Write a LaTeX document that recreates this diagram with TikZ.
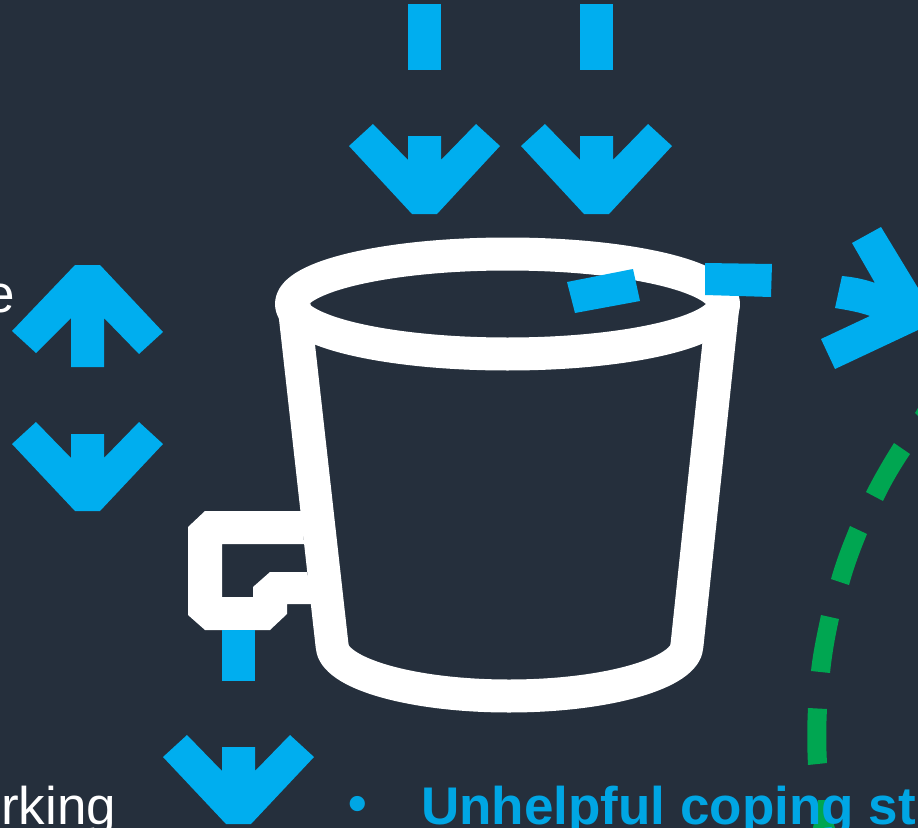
\documentclass[tikz,border=0pt]{standalone}
\usepackage{xcolor}
\usepackage{fontspec}
\setmainfont{Liberation Sans}
\definecolor{bginkdark}{RGB}{37,47,60}
\definecolor{flowblue}{RGB}{0,174,239}
\definecolor{flowgreen}{RGB}{0,166,81}
\definecolor{textblue}{RGB}{0,166,228}
\tikzset{
  bucketline/.style={draw=white, line width=24.75pt, line join=round},
  bucketfill/.style={fill=white},
  flowshape/.style={fill=flowblue},
  leakshape/.style={fill=flowgreen},
  wordwhite/.style={font=\fontsize{39.75pt}{44pt}\selectfont, text=white, inner sep=0pt},
  wordblue/.style={font=\fontsize{39.75pt}{44pt}\selectfont\bfseries, text=textblue, inner sep=0pt}
}

\begin{document}
\begin{tikzpicture}[x=0.75pt, y=-0.75pt]
  % Page and background
  \useasboundingbox (0,0) rectangle (918,828);
  \clip (0,0) rectangle (918,828);
  \fill[bginkdark] (0,0) rectangle (918,828);

  % --- Green dashes, right side ---
  \fill[leakshape] (915,413) -- (918,408) -- (918,416) -- cycle;
  \fill[leakshape] (894,443) .. controls (884,459) and (874,476) .. (866,492) -- (883,501) .. controls (891,484) and (900,469) .. (910,454) -- cycle;
  \fill[leakshape] (850,526) .. controls (843,543) and (836,561) .. (831,579) -- (849,585) .. controls (854,567) and (860,551) .. (867,534) -- cycle;
  \fill[leakshape] (821,615) .. controls (817,634) and (813,652) .. (811,671) -- (830,673) .. controls (832,654) and (835,637) .. (839,619) -- cycle;
  \fill[leakshape] (808,708) .. controls (807,727) and (807,746) .. (808,765) -- (827,763) .. controls (826,745) and (826,727) .. (827,709) -- cycle;
  \fill[leakshape] (818,800) -- (826,800) -- (835,828) -- (813,828) -- cycle;

  % --- Bucket ---
  \draw[bucketline] (294,305) -- (332,645) .. controls (332,673) and (411,696) .. (509,696) .. controls (607,696) and (687,673) .. (687,645) -- (723,305);
  \draw[bucketline] (507.5,304) ellipse [x radius=216, y radius=50];
  % Tap on the left
  \fill[bucketfill] (302,511) -- (205,511) -- (188,527) -- (188,615) -- (205,630) -- (270,630) -- (287,614) -- (287,604) -- (314,604) -- (307,572) -- (270,572) -- (253,587) -- (253,597) -- (222,597) -- (222,544) -- (304,544) -- cycle;

  % --- Top arrows ---
  \fill[flowshape] (408,4) rectangle (441,70);
  \fill[flowshape] (349,146) -- (373,124) -- (408,160) -- (408,136) -- (441,136) -- (441,160) -- (476,124) -- (500,146) -- (437,214) -- (412,214) -- cycle;
  \fill[flowshape] (580,4) rectangle (613,70);
  \fill[flowshape] (521,146) -- (545,124) -- (580,160) -- (580,136) -- (613,136) -- (613,160) -- (648,124) -- (672,146) -- (609,214) -- (584,214) -- cycle;

  % --- Left arrows ---
  \fill[flowshape] (75,265) -- (100,265) -- (163,332) -- (139,354) -- (104,318) -- (104,367) -- (71,367) -- (71,318) -- (36,353) -- (12,331) -- cycle;
  \fill[flowshape] (12,444) -- (36,422) -- (71,458) -- (71,434) -- (104,434) -- (104,458) -- (139,422) -- (163,444) -- (100,511) -- (75,511) -- cycle;

  % --- Overflow at the rim, right arrow ---
  \fill[flowshape] (567,282) -- (633,269) -- (640,301) -- (575,313) -- cycle;
  \fill[flowshape] (705,263) -- (772,264) -- (771,297) -- (705,295) -- cycle;
  \fill[flowshape] (881,227) -- (852,243) -- (875,283) .. controls (864,279) and (853,277) .. (842,276) -- (835,308) .. controls (847,310) and (859,312) .. (870,316) -- (821,339) -- (835,369) -- (918,330) -- (918,288) -- cycle;

  % --- Tap outflow ---
  \fill[flowshape] (222,630) rectangle (255,681);
  \fill[flowshape] (163,757) -- (187,735) -- (222,771) -- (222,747) -- (255,747) -- (255,771) -- (290,735) -- (314,757) -- (251,824) -- (226,824) -- cycle;

  % --- Text cut off by the page ---
  \node[wordwhite, anchor=base east] (wordtop) at (15,312) {e};
  \node[wordwhite, anchor=base west] (wordbottom) at (1,824) {rking};
  \node[wordblue, anchor=base] (bulletmark) at (358,821) {\textbullet};
  \node[wordblue, anchor=base west] (copingtext) at (421,824) {Unhelpful coping st};
\end{tikzpicture}
\end{document}
